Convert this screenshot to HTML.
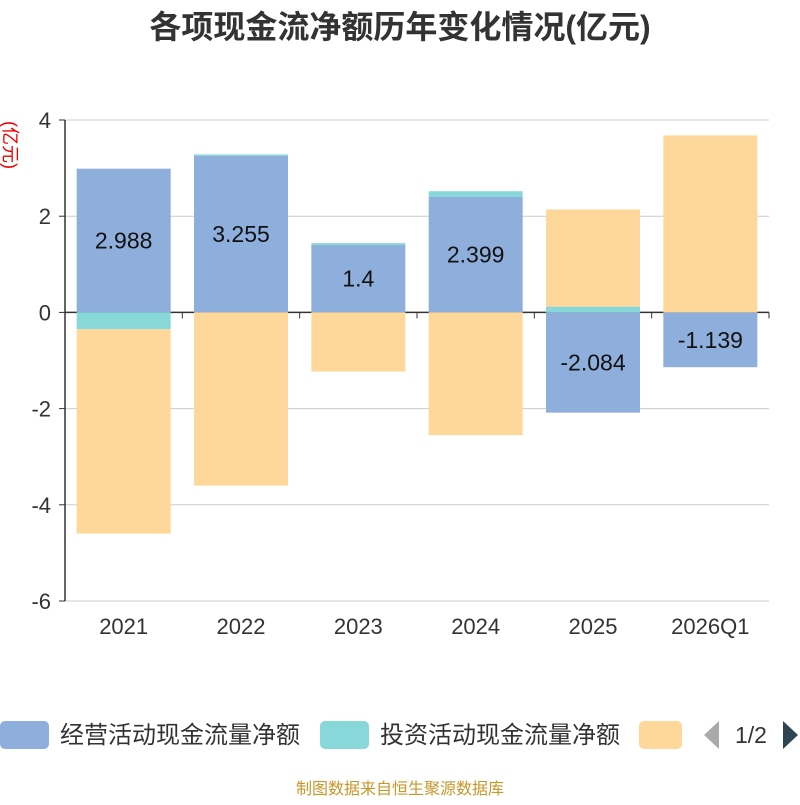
<!DOCTYPE html>
<html><head><meta charset="utf-8"><style>
body{margin:0;width:800px;height:800px;background:#fff;overflow:hidden;font-family:"Liberation Sans","Noto Sans CJK SC",sans-serif}
svg text{font-family:"Liberation Sans","Noto Sans CJK SC",sans-serif}
</style></head><body>
<svg id="c" width="800" height="800">
<text x="400" y="38" text-anchor="middle" font-size="32" font-weight="bold" fill="#333">各项现金流净额历年变化情况(亿元)</text>
<text transform="translate(4,145) rotate(90)" text-anchor="middle" font-size="18" fill="#e00">(亿元)</text>
<g id="grid"></g><g id="bars"></g><g id="axes"></g>
<g>
<rect x="0" y="721" width="49" height="28" rx="5" fill="#8eaedb"/>
<text x="60" y="743" font-size="24" fill="#333">经营活动现金流量净额</text>
<rect x="320" y="721" width="49" height="28" rx="5" fill="#88d7d9"/>
<text x="380" y="743" font-size="24" fill="#333">投资活动现金流量净额</text>
<rect x="639" y="721" width="43" height="28" rx="5" fill="#fdd89a"/>
<polygon points="719,721 719,749 704,735" fill="#aaa"/>
<text x="751" y="743" text-anchor="middle" font-size="23" fill="#333">1/2</text>
<polygon points="783,721 783,749 798,735" fill="#2f4554"/>
</g>
<text x="400" y="794" text-anchor="middle" font-size="16" fill="#c8962a">制图数据来自恒生聚源数据库</text>
</svg>
<script>
const categories=["2021","2022","2023","2024","2025","2026Q1"];
const operating=[2.988,3.255,1.4,2.399,-2.084,-1.139];
const investing=[-0.35,0.03,0.04,0.12,0.12,0];
const financing=[-4.25,-3.6,-1.23,-2.55,2.02,3.68];
const yTicks=[4,2,0,-2,-4,-6];
const NS="http://www.w3.org/2000/svg";
const x0=65,x1=769,yTop=120,yBot=601,yMax=4,yMin=-6;
const y=v=>yTop+(yMax-v)/(yMax-yMin)*(yBot-yTop);
const bw=(x1-x0)/categories.length;
const xc=i=>x0+bw*(i+0.5);
function mk(tag,attrs,parent){const e=document.createElementNS(NS,tag);for(const k in attrs)e.setAttribute(k,attrs[k]);document.getElementById(parent).appendChild(e);return e;}
yTicks.forEach(t=>{
 const l=mk("line",{x1:x0,x2:x1,y1:y(t),y2:y(t),stroke:t===0?"#333":"#ccc","stroke-width":t===0?1.5:1},"grid");
 
 
 const tx=mk("text",{x:x0-14,y:y(t)+8,"text-anchor":"end","font-size":22,fill:"#333"},"axes");
 tx.textContent=t;
 
 
 const tk=mk("line",{x1:x0-6,x2:x0,y1:y(t),y2:y(t),stroke:"#333"},"axes");
 
 
});
const ax=mk("line",{x1:x0,x2:x0,y1:yTop,y2:yBot,stroke:"#333","stroke-width":1.5},"axes");


for(let i=0;i<=categories.length;i++){
 const tk=mk("line",{x1:x0+bw*i,x2:x0+bw*i,y1:y(0),y2:y(0)+6,stroke:"#333"},"axes");
 
 
}
const series=[[operating,"#8eaedb","operating"],[investing,"#88d7d9","investing"],[financing,"#fdd89a","financing"]];
categories.forEach((c,i)=>{
 let pos=0,neg=0;
 series.forEach(([arr,col,nm])=>{
  const v=arr[i];if(!v)return;
  let a,b;
  if(v>0){a=pos;b=pos+v;pos=b;}else{a=neg;b=neg+v;neg=b;}
  const r=mk("rect",{x:xc(i)-47,width:94,y:Math.min(y(a),y(b)),height:Math.abs(y(a)-y(b)),fill:col},"bars");
  
  
 });
 const v=operating[i];
 const lt=mk("text",{x:xc(i),y:y(v/2)+8,"text-anchor":"middle","font-size":23,fill:"#111"},"bars");
 lt.textContent=v;
 
 
 const xt=mk("text",{x:xc(i),y:634,"text-anchor":"middle","font-size":22,fill:"#333"},"axes");
 xt.textContent=c;
 
 
});
</script>
</body></html>
